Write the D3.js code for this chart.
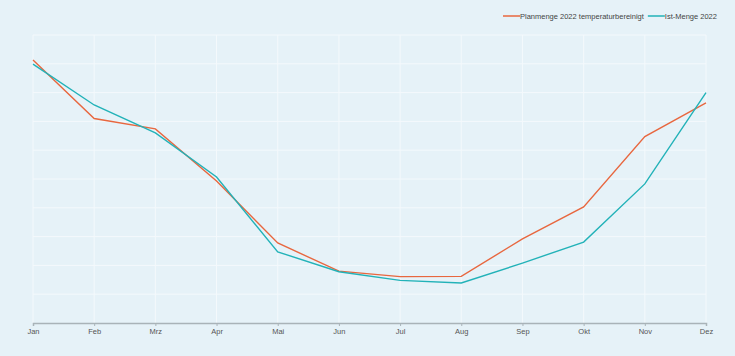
<!DOCTYPE html>
<html><head><meta charset="utf-8">
<script src="https://cdn.jsdelivr.net/npm/d3@7"></script>
<style>
html,body{margin:0;padding:0;background:#e6f2f8;}
svg{display:block;font-family:"Liberation Sans",Arial,sans-serif;}
</style></head>
<body><svg id="c" width="735" height="356"></svg>
<script>
const months = ["Jan","Feb","Mrz","Apr","Mai","Jun","Jul","Aug","Sep","Okt","Nov","Dez"];
const planValues = [91.3, 71.0, 67.4, 49.3, 27.8, 18.0, 16.1, 16.2, 29.2, 40.3, 64.7, 76.4];
const istValues  = [89.9, 75.7, 66.0, 50.7, 24.7, 17.8, 14.8, 13.9, 20.8, 28.1, 48.3, 80.0];
const seriesNames = ["Planmenge 2022 temperaturbereinigt", "Ist-Menge 2022"];
const seriesColors = ["#e8673f", "#22b2b8"];
const yTicks = [0,10,20,30,40,50,60,70,80,90,100];

const svg = d3.select("#c");
const W = 735, H = 356;
const m = {l:33, r:29, t:35, b:33};
const x = d3.scalePoint().domain(months).range([m.l, W - m.r]);
const y = d3.scaleLinear().domain([0,100]).range([H - m.b, m.t]);

svg.append("rect").attr("width", W).attr("height", H).attr("fill", "#e6f2f8");

// grid
const g = svg.append("g");
g.selectAll("line.h").data(yTicks.slice(1)).join("line")
  .attr("x1", m.l).attr("x2", W - m.r)
  .attr("y1", d => y(d)).attr("y2", d => y(d))
  .attr("stroke", "#f4f9fc").attr("stroke-width", 1);
g.selectAll("line.v").data(months).join("line")
  .attr("x1", d => x(d)).attr("x2", d => x(d))
  .attr("y1", m.t).attr("y2", H - m.b)
  .attr("stroke", "#f4f9fc").attr("stroke-width", 1);

// x axis
const ax = svg.append("g").attr("transform", `translate(0,${H - m.b})`)
  .call(d3.axisBottom(x).tickSize(3).tickPadding(3));
ax.select(".domain").attr("stroke", "#a9b3b8").attr("stroke-width", 1.5);
ax.selectAll(".tick line").attr("stroke", "#a9b3b8");
ax.selectAll(".tick text").attr("fill", "#555").attr("font-size", "7.5px")
  .attr("font-family", "Liberation Sans, Arial, sans-serif");

const line = d3.line().x((d,i) => x(months[i])).y(d => y(d));
[planValues, istValues].forEach((vals, k) => {
  svg.append("path").datum(vals).attr("d", line)
    .attr("fill", "none").attr("stroke", seriesColors[k]).attr("stroke-width", 1.4);
});

// legend
const leg = svg.append("g").attr("font-size", "7.5px").attr("fill", "#444");
let lx = 503;
seriesNames.forEach((n, k) => {
  leg.append("line").attr("x1", lx).attr("x2", lx + 17).attr("y1", 16).attr("y2", 16)
    .attr("stroke", seriesColors[k]).attr("stroke-width", 1.5);
  const t = leg.append("text").attr("x", lx + 17).attr("y", 16).attr("dy", "0.35em").text(n);
  lx = lx + 17 + t.node().getComputedTextLength() + 4;
});
</script></body></html>
